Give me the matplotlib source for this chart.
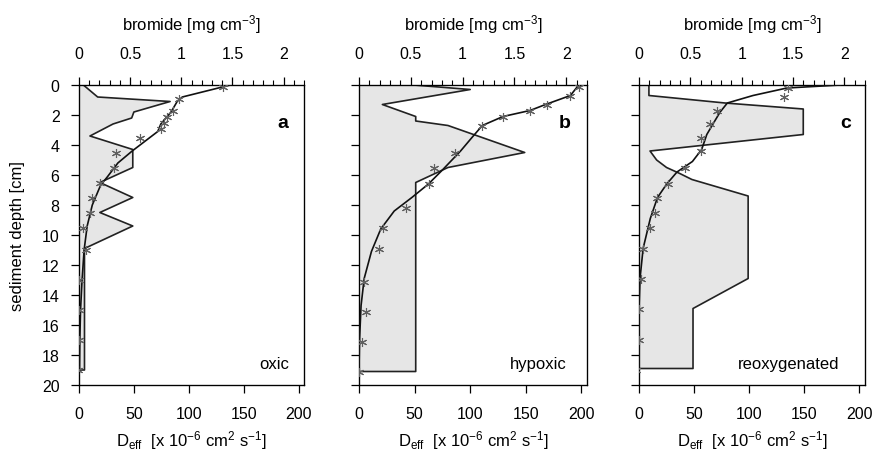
import numpy as np
from matplotlib import pyplot as plt

plt.rcParams['font.family'] = ['Liberation Sans', 'DejaVu Sans']
plt.rcParams['mathtext.default'] = 'regular'

# Deff profiles (bottom axis) : depth [cm], Deff [x10-6 cm2 s-1]
a_dep = [0, 0.8, 1.1, 1.8, 2.2, 2.6, 3.4, 4.3, 5.5, 6.5, 7.5, 8.5, 9.4, 10.9, 19.0, 19.0]
a_deff = [4, 17, 83, 50, 48, 31, 10, 49, 49, 19, 49, 19, 49, 5, 5, 0]

b_dep = [0, 0.3, 1.3, 2.1, 2.4, 2.7, 4.5, 5.5, 6.5, 19.1, 19.1]
b_deff = [49, 100, 21, 51, 51, 80, 149, 80, 51, 51, 0]

c_dep = [0, 0.7, 1.2, 1.6, 3.3, 4.4, 5.0, 5.5, 5.9, 6.3, 7.4, 12.9, 14.9, 18.9, 18.9]
c_deff = [9, 9, 78, 149, 149, 10, 16, 25, 37, 48, 99, 99, 49, 49, 0]

# bromide model curves (top axis) : depth [cm], bromide [mg cm-3]
a_fit_dep = [0, 0.8, 1.1, 1.8, 2.6, 3.1, 4.4, 5.2, 6.1, 6.7, 8.0, 9.4, 11, 13, 15, 17, 19]
a_fit = [1.48, 1.01, 0.96, 0.90, 0.80, 0.77, 0.52, 0.38, 0.28, 0.21, 0.13, 0.08, 0.05, 0.03, 0.015, 0.008, 0.005]

b_fit_dep = [0, 0.7, 1.3, 1.7, 2.1, 2.7, 3.5, 4.4, 5.7, 6.6, 7.5, 8.4, 9.6, 11.1, 12.9, 14.7, 17, 19]
b_fit = [2.12, 2.04, 1.80, 1.65, 1.39, 1.19, 1.09, 0.98, 0.80, 0.67, 0.51, 0.34, 0.21, 0.12, 0.05, 0.02, 0.005, 0.0]

c_fit_dep = [0, 0.2, 0.7, 1.2, 1.8, 2.6, 3.3, 4.3, 5.1, 5.8, 6.6, 7.5, 8.9, 10.9, 12.9, 15, 19]
c_fit = [1.96, 1.44, 1.11, 0.86, 0.79, 0.72, 0.66, 0.61, 0.52, 0.37, 0.27, 0.18, 0.11, 0.04, 0.01, 0.0, 0.0]

# bromide measurements
a_obs_dep = [0.1, 0.9, 1.7, 2.1, 2.5, 2.9, 3.5, 4.5, 5.5, 6.5, 7.5, 8.5, 9.5, 11, 13, 15, 17, 19]
a_obs = [1.41, 0.98, 0.92, 0.86, 0.83, 0.80, 0.60, 0.36, 0.34, 0.21, 0.13, 0.11, 0.04, 0.07, 0.0, 0.0, 0.0, -0.01]

b_obs_dep = [0.1, 0.7, 1.3, 1.7, 2.1, 2.7, 4.5, 5.5, 6.6, 8.2, 9.5, 10.9, 13.1, 15.1, 17.1, 19.1]
b_obs = [2.12, 2.04, 1.81, 1.65, 1.39, 1.19, 0.93, 0.72, 0.68, 0.45, 0.23, 0.19, 0.05, 0.07, 0.03, 0.0]

c_obs_dep = [0.2, 0.8, 1.7, 2.6, 3.5, 4.4, 5.5, 6.6, 7.5, 8.5, 9.5, 10.9, 12.9, 14.9, 17, 19]
c_obs = [1.45, 1.41, 0.76, 0.69, 0.60, 0.60, 0.45, 0.28, 0.18, 0.16, 0.11, 0.04, 0.02, 0.0, 0.0, -0.03]

panels = [
    ('a', 'oxic', a_dep, a_deff, a_fit_dep, a_fit, a_obs_dep, a_obs),
    ('b', 'hypoxic', b_dep, b_deff, b_fit_dep, b_fit, b_obs_dep, b_obs),
    ('c', 'reoxygenated', c_dep, c_deff, c_fit_dep, c_fit, c_obs_dep, c_obs),
]
lefts = [79, 359, 639]
widths = [225, 228, 226]
let_x = [0.93, 0.93, 0.94]
name_x = [0.935, 0.91, 0.885]

fig = plt.figure(figsize=(8.88, 4.56), dpi=100)

for i, (let, name, dep, deff, fdep, fit, odep, obs) in enumerate(panels):
    ax = fig.add_axes([lefts[i] / 888, 70 / 456, widths[i] / 888, 300 / 456])
    ax.fill([0] + deff, [0] + dep, color='#e6e6e6', lw=0, zorder=1)
    ax.plot(deff, dep, color='#222222', lw=1.2, zorder=2)
    ax.set_xlim(0, 205)
    ax.set_ylim(20, 0)
    ax.set_xticks([0, 50, 100, 150, 200])
    ax.set_yticks(range(0, 21, 2))
    ax.tick_params(direction='out', length=6, width=0.9, labelsize=11.5, pad=9)
    ax.tick_params(axis='y', pad=8)
    ax.set_xlabel('D$_{eff}$  [x 10$^{-6}$ cm$^2$ s$^{-1}$]', fontsize=12, labelpad=5)
    if i == 0:
        ax.set_ylabel('sediment depth [cm]', fontsize=12, labelpad=12)
    else:
        ax.set_yticklabels([])
    for s in ax.spines.values():
        s.set_linewidth(0.9)

    top = ax.twiny()
    top.plot(fit, fdep, color='#111111', lw=1.2, zorder=3)
    top.plot(obs, odep, ls='none', marker=(6, 2, 0), ms=6.5, mew=0.8, color='#606060', zorder=4)
    top.set_xlim(0, 2.2)
    top.set_xticks([0, 0.5, 1, 1.5, 2])
    top.set_xticklabels(['0', '0.5', '1', '1.5', '2'])
    top.set_xticks(np.arange(0, 2.25, 0.1), minor=True)
    top.tick_params(direction='out', length=6, width=0.9, labelsize=11.5, pad=11)
    top.tick_params(which='minor', direction='out', length=3.5, width=0.8)
    top.set_xlabel('bromide [mg cm$^{-3}$]', fontsize=12, labelpad=12)
    top.set_ylim(20, 0)

    top.text(let_x[i], 0.875, let, transform=ax.transAxes, fontsize=14, fontweight='bold',
             ha='right', va='center')
    top.text(name_x[i], 0.07, name, transform=ax.transAxes, fontsize=12, ha='right', va='center')

fig.savefig('out.png', dpi=100)
